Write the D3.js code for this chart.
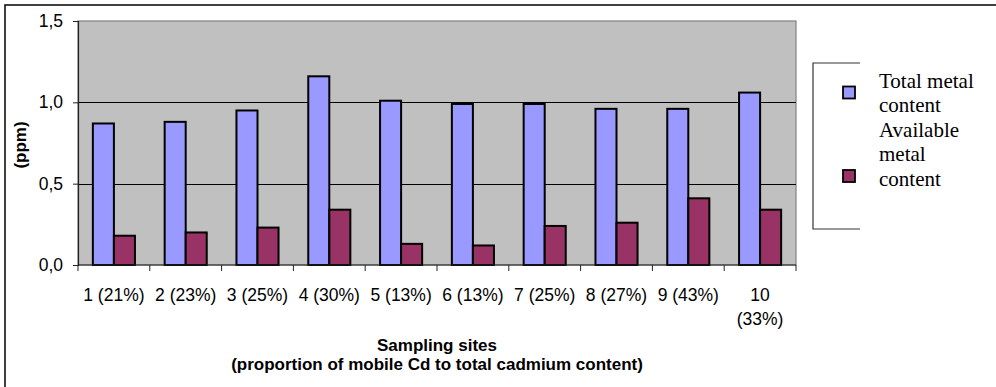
<!DOCTYPE html>
<html>
<head>
<meta charset="utf-8">
<script src="https://cdn.jsdelivr.net/npm/d3@7"></script>
<style>
  body { margin: 0; background: #fff; }
  svg { display: block; }
</style>
</head>
<body>
<script>
// data
const sites = ['1 (21%)', '2 (23%)', '3 (25%)', '4 (30%)', '5 (13%)',
  '6 (13%)', '7 (25%)', '8 (27%)', '9 (43%)', '10 (33%)'];
const totalMetal = [0.87, 0.88, 0.95, 1.16, 1.01, 0.99, 0.99, 0.96, 0.96, 1.06];
const availableMetal = [0.18, 0.20, 0.23, 0.34, 0.13, 0.12, 0.24, 0.26, 0.41, 0.34];
const seriesNames = ['Total metal content', 'Available metal content'];
const seriesColors = ['#9999ff', '#993366'];
const yTicks = [0, 0.5, 1.0, 1.5];

const W = 996, H = 387;
const margin = { top: 21, right: 200, bottom: 122, left: 78 },
  width = 796 - margin.left,
  height = 265 - margin.top;

const svg = d3.select('body')
  .append('svg')
  .attr('width', W)
  .attr('height', H);

// outer frame (runs off the right and bottom edge)
svg.append('rect')
  .attr('x', 5).attr('y', 5)
  .attr('width', 1100).attr('height', 500)
  .attr('fill', 'none')
  .attr('stroke', '#111')
  .attr('stroke-width', 1.6);

const g = svg.append('g')
  .attr('transform', 'translate(' + margin.left + ',' + margin.top + ')');

const x0 = d3.scaleBand()
  .domain(sites)
  .range([0, width])
  .padding(0);
const step = x0.step();
const gap = step * 0.207;
const x1 = d3.scaleBand()
  .domain(d3.range(seriesNames.length))
  .range([gap, step - gap]);

const y = d3.scaleLinear()
  .domain([0, 1.5])
  .range([height, 0]);

// plot background
g.append('rect')
  .attr('width', width).attr('height', height)
  .attr('fill', '#c0c0c0')
  .attr('stroke', '#808080')
  .attr('stroke-width', 1.2);

// gridlines
g.append('g')
  .selectAll('line')
  .data(yTicks.filter(d => d > 0 && d < 1.5))
  .join('line')
  .attr('x1', 0).attr('x2', width)
  .attr('y1', d => Math.round(y(d)) + 0.5)
  .attr('y2', d => Math.round(y(d)) + 0.5)
  .attr('stroke', '#000')
  .attr('stroke-width', 1);

// Y axis
const yAxis = g.append('g')
  .call(d3.axisLeft(y)
    .tickValues(yTicks)
    .tickSize(5)
    .tickPadding(10)
    .tickFormat(d => d3.format('.1f')(d).replace('.', ',')));
yAxis.select('.domain').attr('stroke', '#222').attr('stroke-width', 1.2);
yAxis.selectAll('.tick line').attr('stroke', '#222');
yAxis.selectAll('text')
  .attr('font-family', 'Liberation Sans, Arial, sans-serif')
  .attr('font-size', 17.5)
  .attr('fill', '#000');

// bars
const series = [totalMetal, availableMetal];
const groups = g.append('g')
  .selectAll('g')
  .data(sites)
  .join('g')
  .attr('transform', d => 'translate(' + x0(d) + ',0)');

groups.selectAll('rect')
  .data((d, i) => series.map((s, k) => ({ k: k, v: s[i] })))
  .join('rect')
  .attr('x', d => x1(d.k))
  .attr('width', x1.bandwidth())
  .attr('y', d => y(d.v))
  .attr('height', d => y(0) - y(d.v))
  .attr('fill', d => seriesColors[d.k])
  .attr('stroke', '#000')
  .attr('stroke-width', 2);

// X axis: line and ticks on category boundaries
const xAxis = g.append('g').attr('transform', 'translate(0,' + height + ')');
xAxis.append('line')
  .attr('x1', 0).attr('x2', width)
  .attr('stroke', '#222').attr('stroke-width', 1.2);
xAxis.selectAll('line.tk')
  .data(sites.map(s => x0(s)).concat([width]))
  .join('line')
  .attr('class', 'tk')
  .attr('x1', d => d).attr('x2', d => d)
  .attr('y1', 0).attr('y2', 6)
  .attr('stroke', '#222');

const xLabels = xAxis.selectAll('text.lbl')
  .data(sites)
  .join('text')
  .attr('class', 'lbl')
  .attr('x', d => x0(d) + step / 2)
  .attr('y', 36)
  .attr('text-anchor', 'middle')
  .attr('font-family', 'Liberation Sans, Arial, sans-serif')
  .attr('font-size', 17.5)
  .text(d => d);

// wrap labels wider than a category
xLabels.each(function (d) {
  const t = d3.select(this);
  if (this.getComputedTextLength() > step - 4) {
    const words = d.split(' ');
    t.text(null);
    words.forEach((w, i) => {
      t.append('tspan')
        .attr('x', x0(d) + step / 2)
        .attr('dy', i === 0 ? 0 : 24)
        .text(w);
    });
  }
});

// axis titles
const title = g.append('text')
  .attr('text-anchor', 'middle')
  .attr('font-family', 'Liberation Sans, Arial, sans-serif')
  .attr('font-size', 17)
  .attr('font-weight', 'bold');
title.append('tspan').attr('x', width / 2).attr('y', height + 86).text('Sampling sites');
title.append('tspan').attr('x', width / 2).attr('dy', 19).text('(proportion of mobile Cd to total cadmium content)');

g.append('text')
  .attr('transform', 'translate(' + (-52) + ',' + (height / 2 + 2) + ') rotate(-90)')
  .attr('text-anchor', 'middle')
  .attr('font-family', 'Liberation Sans, Arial, sans-serif')
  .attr('font-size', 17)
  .attr('font-weight', 'bold')
  .text('(ppm)');

// legend (box is clipped on its right side, as in the original)
const lg = svg.append('g');
lg.append('path')
  .attr('d', 'M860,63H813V229H860')
  .attr('fill', 'none')
  .attr('stroke', '#333')
  .attr('stroke-width', 1.2);

const legendLines = [['Total metal', 'content'], ['Available', 'metal', 'content']];
const markerY = [92.5, 176];
let lineIdx = 0;
legendLines.forEach((lines, k) => {
  lg.append('rect')
    .attr('x', 843).attr('y', markerY[k] - 6)
    .attr('width', 12).attr('height', 12)
    .attr('fill', seriesColors[k])
    .attr('stroke', '#000')
    .attr('stroke-width', 1.8);
  lines.forEach(l => {
    lg.append('text')
      .attr('x', 879)
      .attr('y', 88 + lineIdx * 24.4)
      .attr('font-family', 'Liberation Serif, Times New Roman, serif')
      .attr('font-size', 21)
      .text(l);
    lineIdx++;
  });
});
</script>
</body>
</html>
